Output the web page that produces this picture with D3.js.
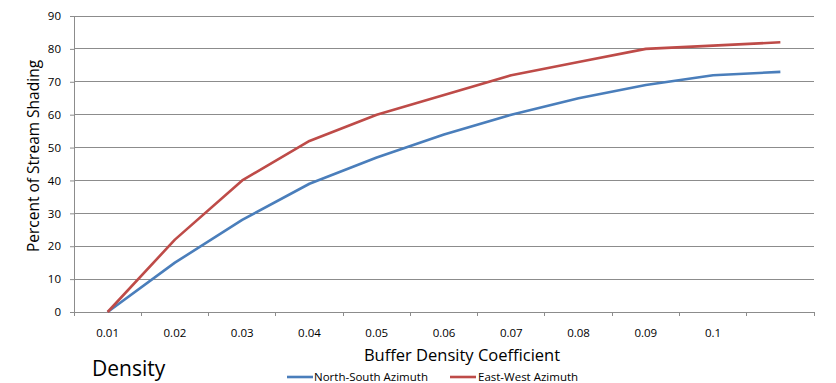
<!DOCTYPE html>
<html><head><meta charset="utf-8">
<script src="https://cdn.jsdelivr.net/npm/d3@7"></script>
<style>body{margin:0;background:#fff}svg{display:block}text{font-family:"Open Sans",sans-serif;fill:#000}</style>
</head><body><svg id="c" width="836" height="383"></svg>
<script>
const categories = ["0.01","0.02","0.03","0.04","0.05","0.06","0.07","0.08","0.09","0.1",""];
const northSouth = [0,15,28,39,47,54,60,65,69,72,73];
const eastWest   = [0,22,40,52,60,66,72,76,80,81,82];
const yTicks = [0,10,20,30,40,50,60,70,80,90];
const seriesNames = ["North-South Azimuth","East-West Azimuth"];
const colors = ["#4a7ebb","#be4b48"];

const svg = d3.select("#c");
const L=74,R=814,T=16,B=312;
const x = d3.scaleBand().domain(categories.map((d,i)=>i)).range([L,R]);
const y = d3.scaleLinear().domain([0,90]).range([B,T]);

// gridlines
svg.append("g").selectAll("line").data(yTicks).join("line")
  .attr("x1",L).attr("x2",R).attr("y1",d=>y(d)).attr("y2",d=>y(d))
  .attr("stroke","#8c8c8c").attr("stroke-width",1).attr("shape-rendering","crispEdges");

// y axis
const ya = svg.append("g").attr("transform",`translate(${L},0)`)
  .call(d3.axisLeft(y).tickValues(yTicks).tickSize(4).tickPadding(9));
ya.select(".domain").attr("stroke","#8c8c8c");
ya.selectAll(".tick line").attr("stroke","#8c8c8c");
ya.selectAll("text").attr("font-size","11.5px").attr("font-family","Open Sans");

// x axis
const xa = svg.append("g").attr("transform",`translate(0,${B})`)
  .call(d3.axisBottom(x).tickFormat(i=>categories[i]).tickSize(0).tickPadding(17));
xa.select(".domain").attr("stroke","#8c8c8c");
xa.selectAll("text").attr("font-size","11.5px").attr("font-family","Open Sans");
// category boundary ticks
const bounds = categories.map((d,i)=>x(i)).concat([R]);
svg.append("g").selectAll("line").data(bounds).join("line")
  .attr("x1",d=>d).attr("x2",d=>d).attr("y1",B).attr("y2",B+4)
  .attr("stroke","#8c8c8c").attr("shape-rendering","crispEdges");

// lines
const line = d3.line().x((d,i)=>x(i)+x.bandwidth()/2).y(d=>y(d));
[northSouth,eastWest].forEach((s,k)=>{
  svg.append("path").datum(s).attr("d",line).attr("fill","none")
    .attr("stroke",colors[k]).attr("stroke-width",2.6).attr("stroke-linejoin","round");
});

// titles
svg.append("text").attr("transform","translate(39,156) rotate(-90)").attr("text-anchor","middle")
  .attr("font-size","15.5px").text("Percent of Stream Shading");
svg.append("text").attr("x",462).attr("y",361).attr("text-anchor","middle")
  .attr("font-size","16.5px").text("Buffer Density Coefficient");
svg.append("text").attr("x",92).attr("y",376).attr("font-size","21px").text("Density");

// legend
const leg = [{x1:287,x2:313,t:314},{x1:450,x2:476,t:478}];
leg.forEach((l,k)=>{
  svg.append("line").attr("x1",l.x1).attr("x2",l.x2).attr("y1",377).attr("y2",377)
    .attr("stroke",colors[k]).attr("stroke-width",2.6);
  svg.append("text").attr("x",l.t).attr("y",381).attr("font-size","11.5px").text(seriesNames[k]);
});
</script></body></html>
